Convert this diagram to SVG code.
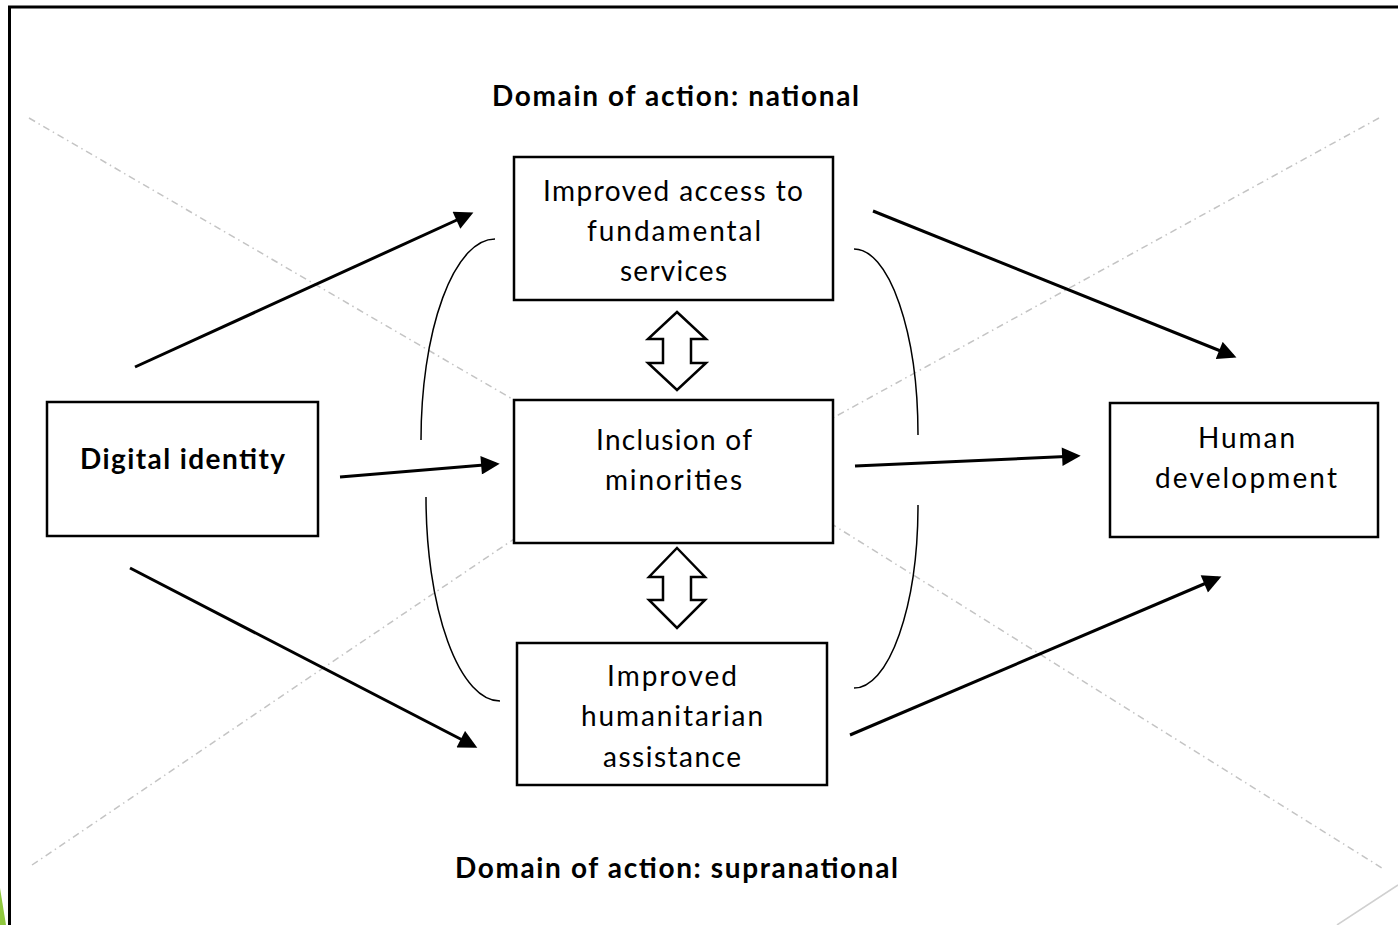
<svg xmlns="http://www.w3.org/2000/svg" width="1398" height="925" viewBox="0 0 1398 925">
  <style>
    .box { fill: #ffffff; stroke: #000000; stroke-width: 2.5; }
    .lbl { font-family: Lato, "Open Sans", "Liberation Sans", sans-serif; font-size: 28px; fill: #000000; text-anchor: middle; }
    .bold { font-weight: bold; }
    .arrow { stroke: #000000; stroke-width: 3; fill: none; marker-end: url(#head); }
    .arc { stroke: #000000; stroke-width: 1.5; fill: none; }
    .dbl { fill: #ffffff; stroke: #000000; stroke-width: 2.5; stroke-linejoin: miter; }
    .guide { stroke: #c4c4c4; stroke-width: 1.5; fill: none; stroke-dasharray: 7 4 1.5 4; }
  </style>
  <defs>
    <marker id="head" viewBox="0 0 10 10" refX="8" refY="5" markerWidth="6.8" markerHeight="6.2" orient="auto" markerUnits="strokeWidth">
      <path d="M0,0 L10,5 L0,10 Z" fill="#000000"/>
    </marker>
  </defs>

  <rect x="0" y="0" width="1398" height="925" fill="#ffffff"/>

  <!-- slide frame and corner accents -->
  <g id="frame">
    <path d="M9.5,930 L9.5,7 L1400,7" fill="none" stroke="#000000" stroke-width="3"/>
    <polygon points="0,888 6,925 0,925" fill="#8fc73e"/>
    <line x1="1337" y1="925" x2="1398" y2="885" stroke="#d0d0d0" stroke-width="1.5"/>
  </g>

  <!-- background dash-dot diagonals -->
  <g id="guides">
    <line class="guide" x1="29" y1="118" x2="514" y2="400"/>
    <line class="guide" x1="830" y1="523" x2="1382" y2="868"/>
    <line class="guide" x1="1379" y1="118" x2="820" y2="425"/>
    <line class="guide" x1="32" y1="865" x2="520" y2="535"/>
  </g>

  <!-- bracket arcs around the central column -->
  <g id="arcs">
    <path class="arc" d="M495,239 A74,201 0 0 0 421,440"/>
    <path class="arc" d="M426,497 A74,204 0 0 0 500,701"/>
    <path class="arc" d="M854,249 A64,186 0 0 1 918,435"/>
    <path class="arc" d="M918,505 A64,183 0 0 1 854,688"/>
  </g>

  <!-- connectors -->
  <g id="connectors">
    <line class="arrow" x1="135" y1="367" x2="470" y2="214"/>
    <line class="arrow" x1="340" y1="477" x2="496" y2="464"/>
    <line class="arrow" x1="130" y1="568" x2="474" y2="746"/>
    <line class="arrow" x1="873" y1="211" x2="1233" y2="356"/>
    <line class="arrow" x1="855" y1="466" x2="1077" y2="456"/>
    <line class="arrow" x1="850" y1="735" x2="1218" y2="578"/>
    <path class="dbl" d="M677,312 L706,339 L691,339 L691,363 L706,363 L677,390 L648,363 L663,363 L663,339 L648,339 Z"/>
    <path class="dbl" d="M677,548 L705,577 L691,577 L691,600 L705,600 L677,628 L649,600 L663,600 L663,577 L649,577 Z"/>
  </g>

  <!-- headings -->
  <g id="heading-national">
    <text class="lbl bold" x="675.5" y="106" textLength="367" lengthAdjust="spacing">Domain of action: national</text>
  </g>
  <g id="heading-supranational">
    <text class="lbl bold" x="676.5" y="878" textLength="443" lengthAdjust="spacing">Domain of action: supranational</text>
  </g>

  <g id="node-digital-identity">
    <rect class="box" x="47" y="402" width="271" height="134"/>
    <text class="lbl bold" x="182.5" y="469" textLength="205" lengthAdjust="spacing">Digital identity</text>
  </g>

  <g id="node-services">
    <rect class="box" x="514" y="157" width="319" height="143"/>
    <text class="lbl" x="673" y="201" textLength="260" lengthAdjust="spacing">Improved access to</text>
    <text class="lbl" x="674" y="241" textLength="174" lengthAdjust="spacing">fundamental</text>
    <text class="lbl" x="673.5" y="281" textLength="107" lengthAdjust="spacing">services</text>
  </g>

  <g id="node-minorities">
    <rect class="box" x="514" y="400" width="319" height="143"/>
    <text class="lbl" x="674" y="450" textLength="156" lengthAdjust="spacing">Inclusion of</text>
    <text class="lbl" x="673.5" y="490" textLength="137" lengthAdjust="spacing">minorities</text>
  </g>

  <g id="node-humanitarian">
    <rect class="box" x="517" y="643" width="310" height="142"/>
    <text class="lbl" x="672" y="686" textLength="130" lengthAdjust="spacing">Improved</text>
    <text class="lbl" x="672" y="726" textLength="182" lengthAdjust="spacing">humanitarian</text>
    <text class="lbl" x="672" y="767" textLength="138" lengthAdjust="spacing">assistance</text>
  </g>

  <g id="node-human-development">
    <rect class="box" x="1110" y="403" width="268" height="134"/>
    <text class="lbl" x="1246.5" y="448" textLength="97" lengthAdjust="spacing">Human</text>
    <text class="lbl" x="1246" y="488" textLength="182" lengthAdjust="spacing">development</text>
  </g>
</svg>
